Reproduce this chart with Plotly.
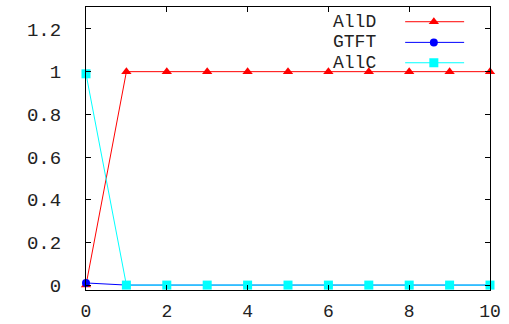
import plotly.graph_objects as go

# Rounds and the fraction of each strategy in the population
rounds = [0, 1, 2, 3, 4, 5, 6, 7, 8, 9, 10]
alld = [0, 1, 1, 1, 1, 1, 1, 1, 1, 1, 1]
gtft = [0.01, 0, 0, 0, 0, 0, 0, 0, 0, 0, 0]
allc = [0.99, 0, 0, 0, 0, 0, 0, 0, 0, 0, 0]

series_names = ["AllD", "GTFT", "AllC"]
series_colors = ["#ff0000", "#0000ff", "#00ffff"]
series_symbols = ["triangle-up", "circle", "square"]
series_values = [alld, gtft, allc]

y_ticks = [0, 0.2, 0.4, 0.6, 0.8, 1, 1.2]
y_tick_text = ["0", "0.2", "0.4", "0.6", "0.8", "1", "1.2"]
x_ticks = [0, 2, 4, 6, 8, 10]

FONT = "Liberation Mono"

fig = go.Figure()

for name, color, sym, vals in zip(series_names, series_colors, series_symbols, series_values):
    fig.add_trace(go.Scatter(
        x=rounds, y=vals, mode="lines+markers", name=name,
        line=dict(color=color, width=1),
        marker=dict(symbol=sym, size=9 if sym != "circle" else 8, color=color),
        showlegend=False, cliponaxis=False,
    ))

# Key: text on the left, line sample with a marker on the right
key_rows = [0.948, 0.875, 0.803]
for name, color, sym, ky in zip(series_names, series_colors, series_symbols, key_rows):
    fig.add_trace(go.Scatter(
        x=[0.79, 0.936], y=[ky, ky], mode="lines",
        line=dict(color=color, width=1), xaxis="x2", yaxis="y2",
        showlegend=False, hoverinfo="skip",
    ))
    fig.add_trace(go.Scatter(
        x=[0.861], y=[ky], mode="markers",
        marker=dict(symbol=sym, size=9 if sym != "circle" else 8, color=color),
        xaxis="x2", yaxis="y2", showlegend=False, hoverinfo="skip",
    ))
    fig.add_annotation(
        x=0.723, y=ky, xref="paper", yref="paper", text=name,
        showarrow=False, xanchor="right", yanchor="middle",
        font=dict(family=FONT, size=18, color="#222222"),
    )

fig.update_layout(
    width=509, height=324,
    margin=dict(l=86, r=19, t=7, b=34),
    paper_bgcolor="white", plot_bgcolor="white",
    xaxis=dict(
        range=[0, 10], tickvals=x_ticks, ticks="inside", ticklen=5,
        tickcolor="#000000", showline=True, linecolor="#000000", linewidth=1,
        mirror="ticks", showgrid=False, zeroline=False, automargin=False,
        tickfont=dict(family=FONT, size=18, color="#222222"),
        ticklabelstandoff=4,
    ),
    yaxis=dict(
        range=[-0.023, 1.303], tickvals=y_ticks, ticktext=y_tick_text,
        ticks="inside", ticklen=5, tickcolor="#000000",
        showline=True, linecolor="#000000", linewidth=1,
        mirror="ticks", showgrid=False, zeroline=False, automargin=False,
        tickfont=dict(family=FONT, size=19, color="#222222"),
        ticklabelstandoff=20,
    ),
    xaxis2=dict(range=[0, 1], overlaying="x", visible=False),
    yaxis2=dict(range=[0, 1], overlaying="y", visible=False),
)

fig.write_html("out.html")
